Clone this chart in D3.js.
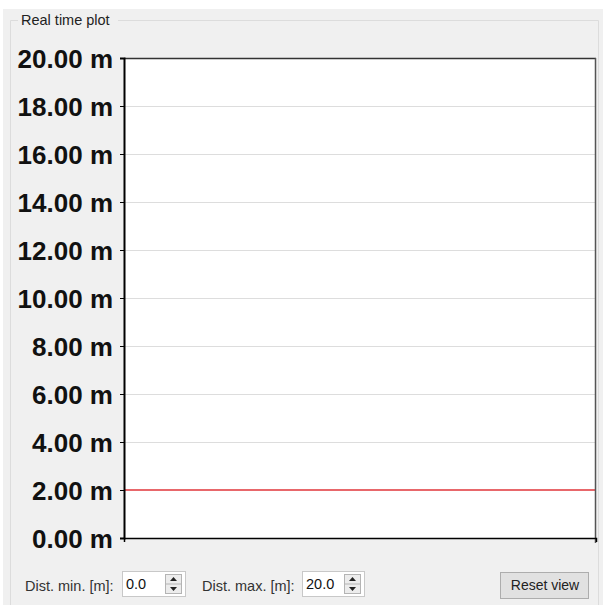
<!DOCTYPE html>
<html>
<head>
<meta charset="utf-8">
<script src="https://cdn.jsdelivr.net/npm/d3@7"></script>
<style>
  body { margin: 0; background: #ffffff; }
  svg { display: block; font-family: "Liberation Sans", Arial, sans-serif; }
</style>
</head>
<body>
<div id="chart"></div>
<script>
// data
const yTicks = [0, 2, 4, 6, 8, 10, 12, 14, 16, 18, 20];
const sampleTimes = [0, 1, 2, 3, 4, 5, 6, 7, 8, 9, 10];
const distValues = [2.0, 2.0, 2.0, 2.0, 2.0, 2.0, 2.0, 2.0, 2.0, 2.0, 2.0];
const distMin = "0.0";
const distMax = "20.0";
const panelTitle = "Real time plot";

let wSvg = 603, hSvg = 605;
let plot = { left: 124, right: 596, top: 58, bottom: 538 };

let svg = d3.select("#chart").append("svg")
    .attr("width", wSvg).attr("height", hSvg);

// panel background
svg.append("rect").attr("x", 3).attr("y", 9).attr("width", wSvg - 3).attr("height", hSvg - 9)
    .attr("fill", "#f0f0f0");

// fieldset frame
svg.append("path")
    .attr("d", `M 18 20.5 H 10.5 V ${hSvg} M 118 20.5 H 598.5 V ${hSvg}`)
    .attr("fill", "none").attr("stroke", "#dcdcdc");
svg.append("text").attr("x", 21).attr("y", 25)
    .attr("font-size", 14.5).attr("fill", "#222")
    .text(panelTitle);

const xScale = d3.scaleLinear()
    .domain([d3.min(sampleTimes), d3.max(sampleTimes)])
    .range([plot.left, plot.right]);

const yScale = d3.scaleLinear()
    .domain([0, 20])
    .range([plot.bottom, plot.top]);

// plot background
svg.append("rect")
    .attr("x", plot.left).attr("y", plot.top)
    .attr("width", plot.right - plot.left).attr("height", plot.bottom - plot.top)
    .attr("fill", "#ffffff");

// grid
svg.append("g").selectAll("line")
    .data(yTicks.filter(t => t > 0 && t < 20))
    .enter().append("line")
    .attr("x1", plot.left).attr("x2", plot.right)
    .attr("y1", d => Math.round(yScale(d)) + 0.5).attr("y2", d => Math.round(yScale(d)) + 0.5)
    .attr("stroke", "#dddddd");

// series
svg.append("path")
    .datum(distValues)
    .attr("d", d3.line().x((d, i) => xScale(sampleTimes[i])).y(d => yScale(d)))
    .attr("fill", "none").attr("stroke", "#e8676b").attr("stroke-width", 2);

// frame lines
svg.append("line").attr("x1", plot.left).attr("x2", plot.right)
    .attr("y1", plot.top + 0.5).attr("y2", plot.top + 0.5).attr("stroke", "#333").attr("stroke-width", 1.5);
svg.append("line").attr("x1", plot.right - 0.5).attr("x2", plot.right - 0.5)
    .attr("y1", plot.top).attr("y2", plot.bottom + 5).attr("stroke", "#555").attr("stroke-width", 1.5);

// x axis (no labels)
let xAxis = svg.append("g")
    .attr("transform", `translate(0, ${plot.bottom})`)
    .call(d3.axisBottom(xScale).tickValues([d3.min(sampleTimes)]).tickSize(4).tickFormat(""));
xAxis.select(".domain").attr("stroke", "#000").attr("stroke-width", 1.5);
xAxis.selectAll(".tick line").attr("stroke", "#000");

// y axis
let yAxis = svg.append("g")
    .attr("transform", `translate(${plot.left}, 0)`)
    .call(d3.axisLeft(yScale).tickValues(yTicks).tickSize(4).tickPadding(7)
        .tickFormat(d => d3.format(".2f")(d) + " m"));
yAxis.select(".domain").attr("stroke", "#000").attr("stroke-width", 2);
yAxis.selectAll(".tick line").attr("stroke", "#000");
yAxis.selectAll(".tick text")
    .attr("font-family", "'Liberation Sans', Arial, sans-serif")
    .attr("font-size", 26).attr("font-weight", "bold").attr("fill", "#111")
    .attr("dy", "0.35em");

// bottom controls
function spinner(x, y, w, h, value) {
    let g = svg.append("g");
    g.append("rect").attr("x", x + 0.5).attr("y", y + 0.5).attr("width", w).attr("height", h)
        .attr("fill", "#fff").attr("stroke", "#c8c8c8");
    g.append("text").attr("x", x + 4).attr("y", y + 18).attr("font-size", 14.5).attr("fill", "#111").text(value);
    let bx = x + w - 20;
    g.append("rect").attr("x", bx + 0.5).attr("y", y + 3.5).attr("width", 16).attr("height", h - 6)
        .attr("fill", "#ececec").attr("stroke", "#b4b4b4");
    g.append("line").attr("x1", bx + 1).attr("x2", bx + 16).attr("y1", y + h / 2 + 0.5).attr("y2", y + h / 2 + 0.5)
        .attr("stroke", "#b4b4b4");
    let cx = bx + 8.5;
    g.append("path").attr("d", `M ${cx - 3.5} ${y + 10} L ${cx + 3.5} ${y + 10} L ${cx} ${y + 6} Z`).attr("fill", "#222");
    g.append("path").attr("d", `M ${cx - 3.5} ${y + h - 9} L ${cx + 3.5} ${y + h - 9} L ${cx} ${y + h - 5} Z`).attr("fill", "#222");
}

svg.append("text").attr("x", 25).attr("y", 591).attr("font-size", 14.5).attr("fill", "#333")
    .text("Dist. min. [m]:");
spinner(122, 571, 63, 25, distMin);
svg.append("text").attr("x", 202).attr("y", 591).attr("font-size", 14.5).attr("fill", "#333")
    .text("Dist. max. [m]:");
spinner(302, 571, 62, 25, distMax);

svg.append("rect").attr("x", 500.5).attr("y", 572.5).attr("width", 88).attr("height", 26)
    .attr("fill", "#e1e1e1").attr("stroke", "#adadad");
svg.append("text").attr("x", 545).attr("y", 590).attr("text-anchor", "middle")
    .attr("font-size", 14).attr("fill", "#222").text("Reset view");
</script>
</body>
</html>
